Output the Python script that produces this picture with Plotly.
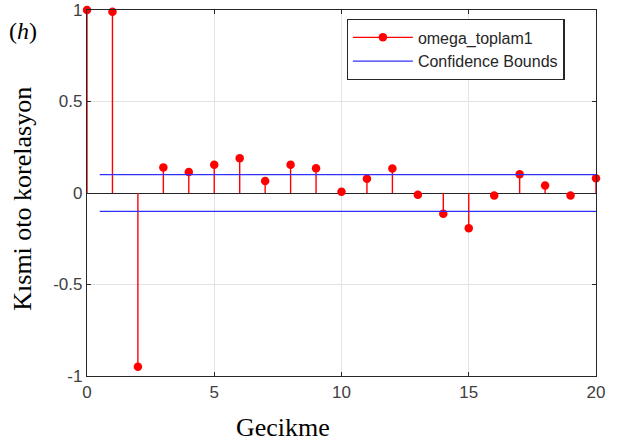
import plotly.graph_objects as go

# Partial autocorrelation of omega_toplam1 by lag
lags = list(range(0, 21))
pacf = [1.0, 0.99, -0.95, 0.14, 0.115, 0.155, 0.19, 0.065, 0.155, 0.135,
        0.007, 0.078, 0.134, -0.009, -0.114, -0.193, -0.014, 0.102, 0.041,
        -0.014, 0.080]
conf_x = [0.5, 20]
conf_level = 0.1

RED = "#ff0000"
BLUE = "#3030ff"
DARK = "#262626"

# Stems: each lag goes from zero up/down to its value
stem_x, stem_y = [], []
for lag, v in zip(lags, pacf):
    stem_x += [lag, lag, None]
    stem_y += [0, v, None]

fig = go.Figure()
fig.add_trace(go.Scatter(
    x=stem_x, y=stem_y, mode="lines", showlegend=False,
    line=dict(color=RED, width=1.4),
))
fig.add_trace(go.Scatter(
    x=lags, y=pacf, mode="markers", showlegend=False,
    marker=dict(color=RED, size=8.5, line=dict(width=0)),
    cliponaxis=False,
))
# legend entry for the stem series
fig.add_trace(go.Scatter(
    x=[None], y=[None], mode="lines+markers", name="omega_toplam1",
    line=dict(color=RED, width=1.2), marker=dict(color=RED, size=8.5),
))
fig.add_trace(go.Scatter(
    x=conf_x, y=[conf_level, conf_level], mode="lines",
    name="Confidence Bounds", line=dict(color=BLUE, width=1.3),
))
fig.add_trace(go.Scatter(
    x=conf_x, y=[-conf_level, -conf_level], mode="lines",
    showlegend=False, line=dict(color=BLUE, width=1.3),
))

tick_font = dict(family="Liberation Sans, Arial", size=17, color="#404040")
title_font = dict(family="Liberation Serif, Times New Roman", size=26, color="#000000")

fig.update_layout(
    width=617, height=444,
    margin=dict(l=87, r=21, t=10, b=68, autoexpand=False),
    plot_bgcolor="white", paper_bgcolor="white",
    showlegend=True,
    legend=dict(
        x=0.51, y=0.975, xanchor="left", yanchor="top",
        bgcolor="white", bordercolor=DARK, borderwidth=1.3,
        font=dict(family="Liberation Sans, Arial", size=16, color=DARK),
        tracegroupgap=0, itemwidth=60,
    ),
    xaxis=dict(
        range=[0, 20], tickvals=[0, 5, 10, 15, 20], automargin=False,
        showgrid=True, gridcolor="#e3e3e3", gridwidth=1,
        showline=True, linecolor=DARK, linewidth=1.3, mirror="allticks",
        ticks="inside", ticklen=4, tickcolor=DARK,
        tickfont=tick_font, zeroline=False, ticklabeloverflow="allow",
    ),
    yaxis=dict(
        range=[-1, 1], tickvals=[-1, -0.5, 0, 0.5, 1], automargin=False,
        ticktext=["-1", "-0.5", "0", "0.5", "1"],
        showgrid=True, gridcolor="#e3e3e3", gridwidth=1,
        showline=True, linecolor=DARK, linewidth=1.3, mirror="allticks",
        ticks="inside", ticklen=4, tickcolor=DARK,
        tickfont=tick_font, ticklabeloverflow="allow",
        zeroline=True, zerolinecolor=DARK, zerolinewidth=1.3,
    ),
    annotations=[
        dict(text="Gecikme", x=0.385, y=-0.142, xref="paper", yref="paper",
             xanchor="center", yanchor="middle", showarrow=False, font=title_font),
        dict(text="Kısmi oto korelasyon", x=-0.126, y=0.484, xref="paper", yref="paper",
             xanchor="center", yanchor="middle", textangle=-90, showarrow=False,
             font=title_font),
        dict(text="(<i>h</i>)", x=-0.126, y=0.943, xref="paper", yref="paper",
             xanchor="center", yanchor="middle", showarrow=False,
             font=dict(family="Liberation Serif, Times New Roman", size=24, color="#000000")),
    ],
)

fig.write_html("out.html")
